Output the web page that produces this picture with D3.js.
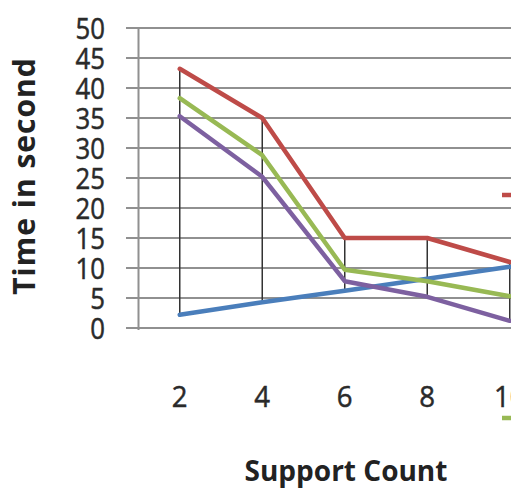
<!DOCTYPE html>
<html><head><meta charset="utf-8">
<script src="https://cdn.jsdelivr.net/npm/d3@7"></script>
<style>html,body{margin:0;padding:0;background:#fff;overflow:hidden}</style>
</head><body>
<svg id="c" width="511" height="489"></svg>
<script>
const categories = ["2", "4", "6", "8", "10"];
const yTicks = [0, 5, 10, 15, 20, 25, 30, 35, 40, 45, 50];
const seriesNames = ["Series 1", "Series 2", "Series 3", "Series 4"];
const seriesBlue = [2.2, 4.3, 6.2, 8.2, 10.2];
const seriesRed = [43.2, 35, 15, 15, 11];
const seriesGreen = [38.3, 28.8, 9.7, 7.8, 5.3];
const seriesPurple = [35.3, 25.2, 7.8, 5.2, 1.2];
const colors = ["#4a7ebb", "#be4b48", "#98b954", "#7d60a0"];

const allSeries = [seriesBlue, seriesRed, seriesGreen, seriesPurple];
const svg = d3.select("#c");
const x = d3.scaleBand().domain(categories).range([138.5, 551]);
const cx = c => x(c) + x.bandwidth() / 2;
const y = d3.scaleLinear().domain([0, 50]).range([328, 28]);

// gridlines
svg.append("g").selectAll("line").data(yTicks).join("line")
  .attr("x1", 126).attr("x2", 560)
  .attr("y1", d => y(d)).attr("y2", d => y(d))
  .attr("stroke", "#909090").attr("stroke-width", 2);
// vertical axis
svg.append("line").attr("x1", 138.5).attr("x2", 138.5)
  .attr("y1", y(50)).attr("y2", y(0) + 2)
  .attr("stroke", "#909090").attr("stroke-width", 2);

// y axis labels
const yAxis = d3.axisLeft(y).tickValues(yTicks).tickSize(0).tickPadding(0);
const yg = svg.append("g").attr("transform", "translate(105,0)").call(yAxis);
yg.select(".domain").remove();
yg.selectAll("text").attr("font-family", "'Open Sans', sans-serif")
  .attr("font-size", 28).attr("fill", "#2a2a2a").attr("dy", "0.36em")
  .attr("stroke", "#2a2a2a").attr("stroke-width", 0.5);
yg.selectAll(".tick").each(function(d){
  d3.select(this).attr("transform", `translate(0,${y(d)})`);
  d3.select(this).select("text").attr("transform", "scale(0.92,1.05)");
});

// x axis labels
const xAxis = d3.axisBottom(x).tickSize(0).tickPadding(0);
const xg = svg.append("g").attr("transform", "translate(0,407)").call(xAxis);
xg.select(".domain").remove();
xg.selectAll("text").attr("font-family", "'Open Sans', sans-serif")
  .attr("font-size", 30).attr("fill", "#2a2a2a").attr("dy", "0").attr("y", 0)
  .attr("stroke", "#2a2a2a").attr("stroke-width", 0.5)
  .attr("transform", "scale(0.92,1)")
  .attr("x", function(c){ return 0; });
xg.selectAll(".tick").each(function(c){
  d3.select(this).attr("transform", `translate(${cx(c)},0)`);
});

// high-low lines
svg.append("g").selectAll("line").data(categories).join("line")
  .attr("x1", c => cx(c)).attr("x2", c => cx(c))
  .attr("y1", (c, i) => y(d3.max(allSeries, s => s[i])))
  .attr("y2", (c, i) => y(d3.min(allSeries, s => s[i])))
  .attr("stroke", "#333").attr("stroke-width", 1.5);

// series lines
const line = d3.line().x((d, i) => cx(categories[i])).y(d => y(d));
svg.append("g").selectAll("path").data(allSeries).join("path")
  .attr("d", d => line(d)).attr("fill", "none")
  .attr("stroke", (d, i) => colors[i]).attr("stroke-width", 4.5)
  .attr("stroke-linejoin", "round").attr("stroke-linecap", "round");

// legend markers (legend lies mostly outside the cropped view)
const legendY = [150, 195, 418, 460];
const lg = svg.append("g").selectAll("g").data(seriesNames).join("g")
  .attr("transform", (d, i) => `translate(502,${legendY[i]})`);
lg.append("line").attr("x1", (d, i) => (i === 1 || i === 2) ? 0 : 20).attr("x2", 30)
  .attr("stroke", (d, i) => colors[i]).attr("stroke-width", 4.5);

// axis titles
svg.append("text").attr("x", 346).attr("y", 481).attr("text-anchor", "middle")
  .attr("font-family", "'Open Sans', sans-serif").attr("font-weight", "bold")
  .attr("font-size", 28).attr("fill", "#222").attr("letter-spacing", 0)
  .text("Support Count");
svg.append("text").attr("transform", "translate(35,176) rotate(-90)")
  .attr("text-anchor", "middle")
  .attr("font-family", "'Open Sans', sans-serif").attr("font-weight", "bold")
  .attr("font-size", 30).attr("fill", "#222").attr("letter-spacing", 1)
  .text("Time in second");
</script>
</body></html>
